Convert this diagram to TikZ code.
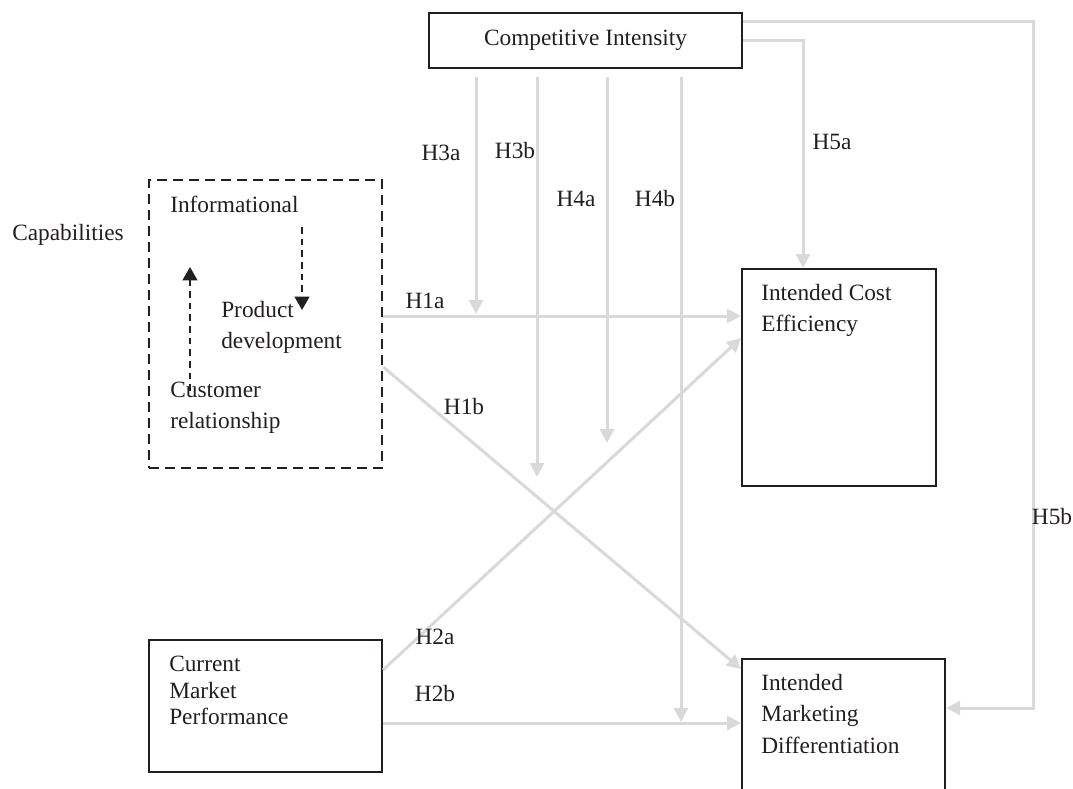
\documentclass[tikz,border=0pt]{standalone}
\usepackage{fontspec}
\setmainfont{Liberation Serif}
\usetikzlibrary{positioning,arrows.meta}
\definecolor{linkgray}{RGB}{217,217,217}
\definecolor{inkblack}{RGB}{35,31,32}
\tikzset{
	box/.style={draw=inkblack, line width=1.5pt, rectangle, inner sep=0pt, anchor=north west},
	capbox/.style={box, line width=1.7pt, dash pattern=on 7.5pt off 4.5pt},
	txt/.style={inner sep=0pt, align=left, text=inkblack, font=\fontsize{17.5}{23.5}\selectfont},
	hyp/.style={inner sep=0pt, text=inkblack, font=\fontsize{17.5}{20}\selectfont},
	link/.style={draw=linkgray, line width=2.25pt, -{Triangle[length=10.5pt,width=10.5pt]}},
	capflow/.style={draw=inkblack, line width=1.5pt, dash pattern=on 5pt off 3.75pt, -{Triangle[length=10pt,width=11pt]}}}

\begin{document}
\begin{tikzpicture}[x=0.75pt,y=0.75pt,yscale=-1,xscale=1]
	\clip (0,0) rectangle (1073,788);
	\useasboundingbox (0,0) rectangle (1073,788);

	%Shape: Rectangle [ci]
	\node[box, minimum width=234.75pt, minimum height=41.25pt, text=inkblack, font=\fontsize{17.5}{20}\selectfont] (ci) at (428,12) {Competitive Intensity};
	%Shape: Dashed Rectangle [cap]
	\node[capbox, minimum width=174.75pt, minimum height=216pt] (cap) at (148,179) {};
	%Shape: Rectangle [ice]
	\node[box, minimum width=145.5pt, minimum height=162.75pt] (ice) at (741,268) {};
	%Shape: Rectangle [imd]
	\node[box, minimum width=152.25pt, minimum height=112.5pt] (imd) at (741,658) {};
	%Shape: Rectangle [cmp]
	\node[box, minimum width=174.75pt, minimum height=99pt] (cmp) at (148,639) {};

	% Text Node
	\node[txt, anchor=west] (capLbl) at (12,235) {Capabilities};
	% Text Node
	\node[txt, below right=12.8pt and 16.5pt of cap.north west] (info) {Informational};
	% Text Node
	\node[txt, below right=91.6pt and 54.75pt of cap.north west] (prod) {Product\\development};
	% Text Node
	\node[txt, below right=152pt and 16.5pt of cap.north west] (cust) {Customer\\relationship};
	% Text Node
	\node[txt, below right=12.1pt and 15pt of ice.north west] (iceTxt) {Intended Cost\\Efficiency};
	% Text Node
	\node[txt, below right=12.1pt and 15pt of imd.north west] (imdTxt) {Intended\\Marketing\\Differentiation};
	% Text Node
	\node[txt, font=\fontsize{17.5}{20}\selectfont, below right=12.5pt and 15.75pt of cmp.north west] (cmpTxt) {Current\\Market\\Performance};

	%Dashed Arrows inside capabilities
	\coordinate (infoTail) at (302,227);
	\coordinate (prodTip) at (302,310);
	\coordinate (custTail) at (190,391);
	\coordinate (infoTip) at (190,267);
	\draw[capflow] (infoTail) -- (prodTip);
	\draw[capflow] (custTail) -- (infoTip);

	%Straight Lines: main effects
	\draw[link] (cap.east |- 0,316) -- (ice.west |- 0,316);
	\draw[link] (cap.east |- 0,367) -- (imd.west |- 0,669);
	\draw[link] (cmp.east |- 0,670) -- (ice.west |- 0,338);
	\draw[link] (cmp.east |- 0,723) -- (imd.west |- 0,723);
	%Straight Lines: moderation by competitive intensity
	\foreach \mx/\my in {476/314, 537/477, 607/443, 681/722}
		\draw[link, shorten <=6pt] (ci.south -| \mx,0) -- (\mx,\my);
	\draw[link] (ci.east) -| (ice.north -| 803,0);
	\draw[link] (ci.east |- 0,22) -| (1033,708) -- (imd.east |- 0,708);

	% Text Node: hypotheses
	\node[hyp] (h1a) at (425,301) {H1a};
	\node[hyp] (h1b) at (464,407) {H1b};
	\node[hyp] (h2a) at (435,637) {H2a};
	\node[hyp] (h2b) at (435,694) {H2b};
	\node[hyp] (h3a) at (441,153) {H3a};
	\node[hyp] (h3b) at (515,151) {H3b};
	\node[hyp] (h4a) at (576,199) {H4a};
	\node[hyp] (h4b) at (655,199) {H4b};
	\node[hyp] (h5a) at (832,142) {H5a};
	\node[hyp] (h5b) at (1052,517) {H5b};

\end{tikzpicture}
\end{document}
